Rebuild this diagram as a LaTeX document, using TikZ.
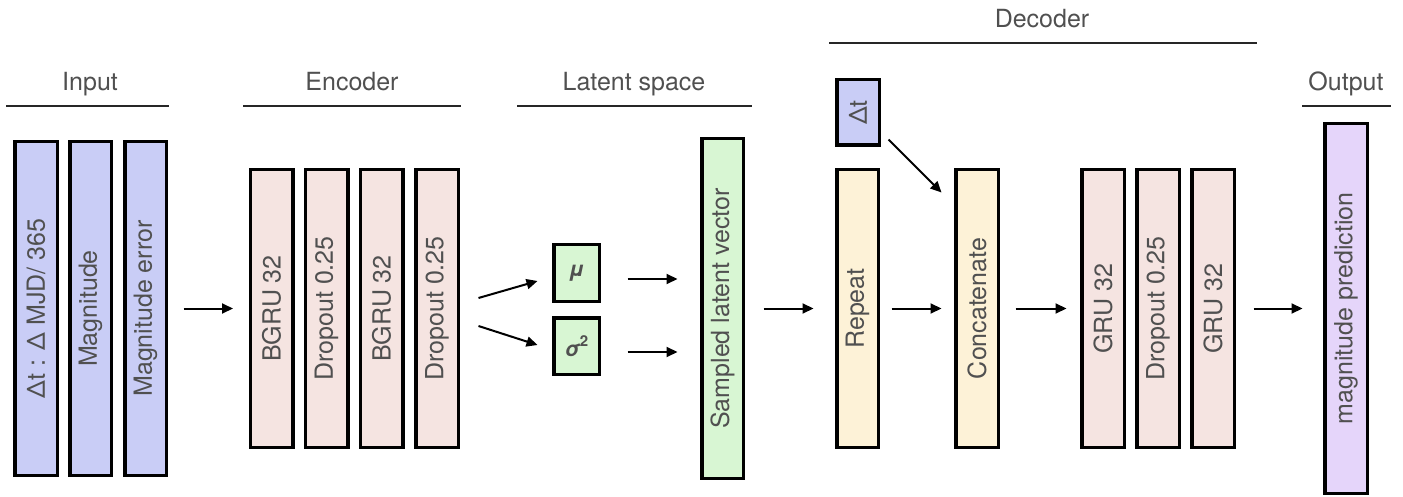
\documentclass[tikz,border=0pt]{standalone}
\usepackage{fontspec}
\usepackage{graphicx}
\setmainfont{TeX Gyre Heros}
\usetikzlibrary{arrows.meta}
\definecolor{txtgray}{HTML}{505050}
\definecolor{inblue}{HTML}{C9CDF6}
\definecolor{encpink}{HTML}{F5E4E1}
\definecolor{latgreen}{HTML}{D8F6D3}
\definecolor{decyellow}{HTML}{FDF2D7}
\definecolor{outpurple}{HTML}{E5D5FA}
\newcommand{\bigfont}{\fontsize{25}{30}\selectfont}
\newcommand{\smallfont}{\fontsize{21}{25}\selectfont\bfseries\itshape}
\tikzset{
  box/.style={draw=black, line width=3.5pt, rectangle, inner sep=0pt, text=txtgray,
    font=\bigfont},
  tall/.style={box, minimum width=42.5pt, minimum height=277.5pt},
  smallbox/.style={box, fill=latgreen, minimum width=45.5pt, minimum height=56.5pt, font=\smallfont},
  arr/.style={line width=2pt, -{Triangle[length=11pt,width=10pt]}},
  hline/.style={line width=2pt, draw=black!85},
  head/.style={anchor=base, text=txtgray, inner sep=0pt, font=\bigfont}
}
\begin{document}
\begin{tikzpicture}[x=1pt,y=-1pt]
\useasboundingbox (0,0) rectangle (1403,497);
% headings
\node[head] (hin) at (90,91) {Input};
\draw[hline] (6,106) -- (169,106);
\node[head] (henc) at (352,91) {Encoder};
\draw[hline] (243,106) -- (461,106);
\node[head] (hlat) at (634,91) {Latent space};
\draw[hline] (517,106) -- (752,106);
\node[head] (hdec) at (1042,28) {Decoder};
\draw[hline] (829,43) -- (1257,43);
\node[head] (hout) at (1346,91) {Output};
\draw[hline] (1302,106) -- (1391,106);
% input
\node[box, fill=inblue, minimum width=42.5pt, minimum height=333.5pt] (in1) at (36,308.5) {\rotatebox{90}{Δt : Δ MJD/ 365}};
\node[box, fill=inblue, minimum width=41.5pt, minimum height=333.5pt] (in2) at (90.5,308.5) {\rotatebox{90}{Magnitude}};
\node[box, fill=inblue, minimum width=41.5pt, minimum height=333.5pt] (in3) at (145.5,308.5) {\rotatebox{90}{Magnitude error}};
% encoder
\node[tall, fill=encpink] (enc1) at (271.5,308.5) {\rotatebox{90}{BGRU 32}};
\node[tall, fill=encpink] (enc2) at (326.5,308.5) {\rotatebox{90}{Dropout 0.25}};
\node[tall, fill=encpink] (enc3) at (381.5,308.5) {\rotatebox{90}{BGRU 32}};
\node[tall, fill=encpink] (enc4) at (437,308.5) {\rotatebox{90}{Dropout 0.25}};
% latent
\node[smallbox] (mu) at (576.5,273) {μ};
\node[smallbox] (sig) at (576.5,346) {σ\raisebox{0.45em}{\fontsize{15}{18}\selectfont\upshape 2}};
\node[box, fill=latgreen, minimum width=41.5pt, minimum height=339.5pt] (samp) at (722.5,308.5) {\rotatebox{90}{Sampled latent vector}};
% decoder
\node[box, fill=inblue, minimum width=42.5pt, minimum height=65.5pt] (dt) at (858,112.5) {\rotatebox{90}{Δt}};
\node[tall, fill=decyellow, minimum width=41.5pt] (rep) at (857.5,308.5) {\rotatebox{90}{Repeat}};
\node[tall, fill=decyellow] (cat) at (977,308.5) {\rotatebox{90}{Concatenate}};
\node[tall, fill=encpink] (gru1) at (1103,308.5) {\rotatebox{90}{GRU 32}};
\node[tall, fill=encpink] (gru2) at (1158,308.5) {\rotatebox{90}{Dropout 0.25}};
\node[tall, fill=encpink] (gru3) at (1213,308.5) {\rotatebox{90}{GRU 32}};
% output
\node[box, fill=outpurple, minimum width=42.5pt, minimum height=369.5pt] (out) at (1346,308.5) {\rotatebox{90}{magnitude prediction}};
% arrows
\draw[arr, shorten <=15.5pt, shorten >=15.5pt] (in3) -- (enc1);
\draw[arr] ([xshift=18.5pt,yshift=10.5pt]enc4.east) -- ([xshift=-14.5pt,yshift=-8pt]mu.west);
\draw[arr] ([xshift=18.5pt,yshift=-17.5pt]enc4.east) -- ([xshift=-14.5pt,yshift=1pt]sig.west);
\draw[arr] ([xshift=26.5pt,yshift=-6pt]mu.east) -- ([xshift=-22.5pt,yshift=29.5pt]samp.west);
\draw[arr] ([xshift=26.5pt,yshift=-6pt]sig.east) -- ([xshift=-22.5pt,yshift=-43.5pt]samp.west);
\draw[arr, shorten <=18.5pt, shorten >=21.5pt] (samp) -- (rep);
\draw[arr, shorten <=11.5pt, shorten >=12.5pt] (rep) -- (cat);
\draw[arr, shorten <=15.5pt, shorten >=13.5pt] (cat) -- (gru1);
\draw[arr, shorten <=17.5pt, shorten >=20.5pt] (gru3) -- (out);
\draw[arr] ([xshift=7.5pt,yshift=7.5pt]dt.south east) -- ([xshift=-12.5pt,yshift=-24.5pt]cat.north west);
\end{tikzpicture}
\end{document}
